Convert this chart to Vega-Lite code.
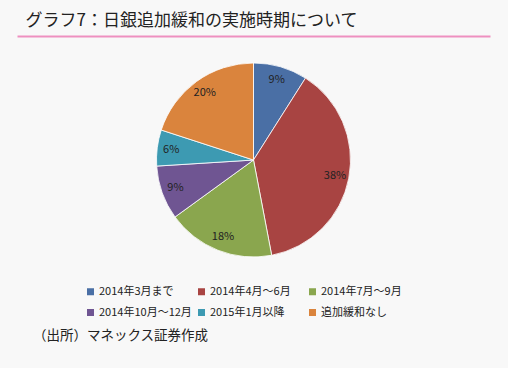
{
  "$schema": "https://vega.github.io/schema/vega-lite/v6.json",
  "autosize": {"type": "none"},
  "width": 473,
  "height": 248,
  "padding": {"left": 17, "top": 36, "right": 18, "bottom": 84},
  "background": "#F8F8F8",
  "title": {
    "text": "（出所）マネックス証券作成",
    "orient": "bottom",
    "anchor": "start",
    "frame": "group",
    "dx": 16,
    "offset": 11,
    "fontSize": 13.5,
    "font": "Noto Sans CJK JP",
    "fontWeight": "normal",
    "color": "#222222"
  },
  "data": {
    "values": [
      {"category": "2014年3月まで", "share": 0.09},
      {"category": "2014年4月～6月", "share": 0.38},
      {"category": "2014年7月～9月", "share": 0.18},
      {"category": "2014年10月～12月", "share": 0.09},
      {"category": "2015年1月以降", "share": 0.06},
      {"category": "追加緩和なし", "share": 0.20}
    ]
  },
  "transform": [
    {"window": [{"op": "row_number", "as": "idx"}]}
  ],
  "config": {
    "view": {"stroke": null},
    "legend": {
      "orient": "none",
      "legendX": 68,
      "legendY": 250,
      "direction": "horizontal",
      "columns": 3,
      "gridAlign": "all",
      "columnPadding": 4,
      "rowPadding": 9,
      "symbolType": "square",
      "symbolSize": 49,
      "symbolStrokeWidth": 0,
      "labelFontSize": 11,
      "labelFont": "Noto Sans CJK JP",
      "labelColor": "#222222",
      "labelOffset": 3,
      "padding": 0,
      "title": null
    }
  },
  "layer": [
    {
      "mark": {"type": "rule", "opacity": 0},
      "encoding": {
        "x": {
          "datum": 0,
          "type": "quantitative",
          "scale": {"domain": [0, 1]},
          "axis": {
            "orient": "top",
            "title": "グラフ7：日銀追加緩和の実施時期について",
            "titleAnchor": "start",
            "titleAlign": "left",
            "titleX": 8,
            "titleY": -11,
            "titleBaseline": "alphabetic",
            "titleFontSize": 17,
            "titleFontWeight": "normal",
            "titleFont": "Noto Sans CJK JP",
            "titleColor": "#222222",
            "domain": true,
            "domainColor": "#EE90C0",
            "domainWidth": 2,
            "ticks": false,
            "labels": false,
            "grid": false
          }
        }
      }
    },
    {
      "encoding": {
        "theta": {"field": "share", "type": "quantitative", "stack": true},
        "order": {"field": "idx", "type": "quantitative", "sort": "ascending"}
      },
      "layer": [
        {
          "mark": {"type": "arc", "outerRadius": 97, "stroke": "#FFFFFF", "strokeWidth": 0.8},
          "encoding": {
            "color": {
              "field": "category",
              "type": "nominal",
              "sort": ["2014年3月まで", "2014年4月～6月", "2014年7月～9月", "2014年10月～12月", "2015年1月以降", "追加緩和なし"],
              "scale": {
                "domain": ["2014年3月まで", "2014年4月～6月", "2014年7月～9月", "2014年10月～12月", "2015年1月以降", "追加緩和なし"],
                "range": ["#4A6FA5", "#A84442", "#8AA64E", "#6F5592", "#3D9AB2", "#DA843D"]
              },
              "legend": {}
            }
          }
        },
        {
          "mark": {"type": "text", "radius": 83, "fontSize": 11, "font": "Noto Sans CJK JP", "color": "#222222"},
          "encoding": {"text": {"field": "share", "type": "quantitative", "format": ".0%"}}
        }
      ]
    }
  ]
}
